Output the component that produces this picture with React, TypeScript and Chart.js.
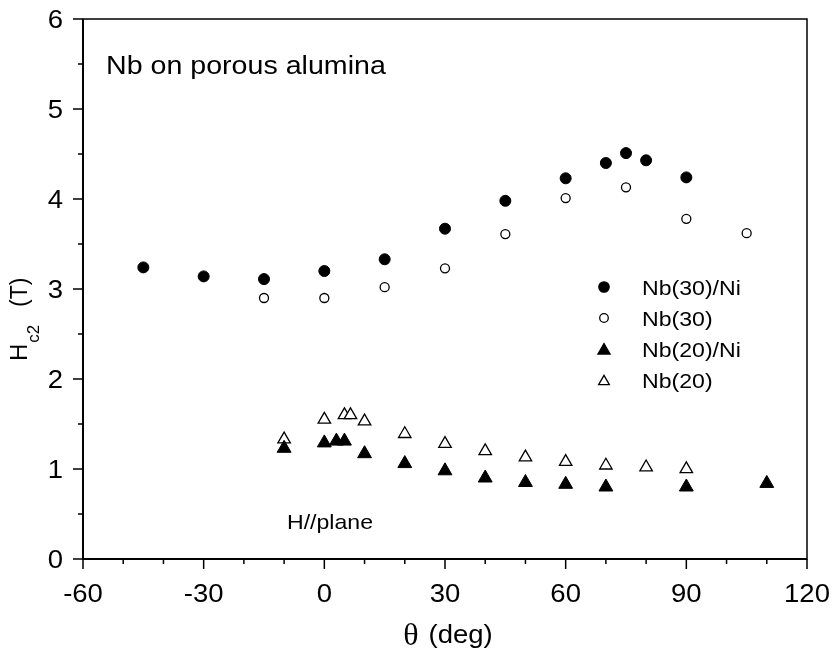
import React, { useEffect, useRef } from 'react';
import { Chart, registerables } from 'chart.js';

Chart.register(...registerables);

// Upper critical field H_c2 (T) versus field angle θ (deg)
const nb30NiTheta = [-45, -30, -15, 0, 15, 30, 45, 60, 70, 75, 80, 90];
const nb30NiHc2 = [3.24, 3.14, 3.11, 3.2, 3.33, 3.67, 3.98, 4.23, 4.4, 4.51, 4.43, 4.24];

const nb30Theta = [-15, 0, 15, 30, 45, 60, 75, 90, 105];
const nb30Hc2 = [2.9, 2.9, 3.02, 3.23, 3.61, 4.01, 4.13, 3.78, 3.62];

const nb20NiTheta = [-10, 0, 3, 5, 10, 20, 30, 40, 50, 60, 70, 90, 110];
const nb20NiHc2 = [1.23, 1.29, 1.31, 1.31, 1.17, 1.06, 0.98, 0.9, 0.85, 0.83, 0.8, 0.8, 0.84];

const nb20Theta = [-10, 0, 5, 6.5, 10, 20, 30, 40, 50, 60, 70, 80, 90];
const nb20Hc2 = [1.33, 1.55, 1.6, 1.6, 1.53, 1.39, 1.28, 1.2, 1.13, 1.08, 1.04, 1.02, 1.0];

const seriesNames = ['Nb(30)/Ni', 'Nb(30)', 'Nb(20)/Ni', 'Nb(20)'];

const xMajorTicks = [-60, -30, 0, 30, 60, 90, 120];
const xMinorTicks = [-50, -40, -20, -10, 10, 20, 40, 50, 70, 80, 100, 110];
const yMajorTicks = [0, 1, 2, 3, 4, 5, 6];
const yMinorTicks = [0.5, 1.5, 2.5, 3.5, 4.5, 5.5];

const SANS = '"Liberation Sans", Arial, sans-serif';
const SERIF = '"Liberation Serif", "Times New Roman", serif';
const STRETCH = 1.1;

function toPoints(xs: number[], ys: number[]) {
  return xs.map((x, i) => ({ x, y: ys[i] }));
}

// Text drawn slightly widened, like the original typesetting
function drawText(
  ctx: CanvasRenderingContext2D,
  text: string,
  x: number,
  y: number,
  font: string,
  align: 'left' | 'center' | 'right' = 'left',
  sx = STRETCH
) {
  ctx.save();
  ctx.font = font;
  ctx.textAlign = 'left';
  ctx.textBaseline = 'alphabetic';
  const w = ctx.measureText(text).width * sx;
  let left = x;
  if (align === 'center') left = x - w / 2;
  if (align === 'right') left = x - w;
  ctx.translate(left, y);
  ctx.scale(sx, 1);
  ctx.fillStyle = '#000';
  ctx.fillText(text, 0, 0);
  ctx.restore();
  return w;
}

function drawMarker(
  ctx: CanvasRenderingContext2D,
  kind: 'circle' | 'triangle',
  filled: boolean,
  x: number,
  y: number,
  r: number
) {
  ctx.save();
  ctx.beginPath();
  if (kind === 'circle') {
    ctx.arc(x, y, r, 0, Math.PI * 2);
  } else {
    ctx.moveTo(x, y - r);
    ctx.lineTo(x + r * Math.sin((2 * Math.PI) / 3), y - r * Math.cos((2 * Math.PI) / 3));
    ctx.lineTo(x + r * Math.sin((4 * Math.PI) / 3), y - r * Math.cos((4 * Math.PI) / 3));
    ctx.closePath();
  }
  ctx.fillStyle = filled ? '#000' : '#fff';
  ctx.fill();
  ctx.lineWidth = 1.3;
  ctx.strokeStyle = '#000';
  ctx.stroke();
  ctx.restore();
}

const framePlugin = {
  id: 'frameAndLabels',
  afterDatasetsDraw(chart: any) {
    const ctx: CanvasRenderingContext2D = chart.ctx;
    const { left, right, top, bottom } = chart.chartArea;
    const xs = chart.scales.x;
    const ys = chart.scales.y;

    ctx.save();
    ctx.strokeStyle = '#000';

    // box
    ctx.lineWidth = 1.5;
    ctx.strokeRect(left, top, right - left, bottom - top);
    ctx.lineWidth = 2;
    ctx.beginPath();
    ctx.moveTo(left, top);
    ctx.lineTo(left, bottom);
    ctx.lineTo(right, bottom);
    ctx.stroke();

    // ticks
    ctx.lineWidth = 1.5;
    ctx.beginPath();
    xMajorTicks.forEach((v) => {
      const px = xs.getPixelForValue(v);
      ctx.moveTo(px, bottom);
      ctx.lineTo(px, bottom + 10);
    });
    xMinorTicks.forEach((v) => {
      const px = xs.getPixelForValue(v);
      ctx.moveTo(px, bottom);
      ctx.lineTo(px, bottom + 5);
    });
    yMajorTicks.forEach((v) => {
      const py = ys.getPixelForValue(v);
      ctx.moveTo(left, py);
      ctx.lineTo(left - 10, py);
    });
    yMinorTicks.forEach((v) => {
      const py = ys.getPixelForValue(v);
      ctx.moveTo(left, py);
      ctx.lineTo(left - 5, py);
    });
    ctx.stroke();
    ctx.restore();

    // tick labels
    const tickFont = `25px ${SANS}`;
    xMajorTicks.forEach((v) => {
      drawText(ctx, String(v), xs.getPixelForValue(v), bottom + 43, tickFont, 'center');
    });
    yMajorTicks.forEach((v) => {
      drawText(ctx, String(v), left - 20, ys.getPixelForValue(v) + 9, tickFont, 'right');
    });

    // x-axis title
    const cx = (left + right) / 2;
    ctx.save();
    ctx.font = `32px ${SERIF}`;
    const thetaW = ctx.measureText('θ').width;
    ctx.restore();
    ctx.save();
    ctx.font = `25px ${SANS}`;
    const degW = ctx.measureText('(deg)').width * STRETCH;
    ctx.restore();
    const gap = 10;
    const startX = cx - (thetaW + gap + degW) / 2 + 3;
    drawText(ctx, 'θ', startX, 645, `32px ${SERIF}`, 'left', 1);
    drawText(ctx, '(deg)', startX + thetaW + gap, 643, `25px ${SANS}`);

    // y-axis title, rotated
    ctx.save();
    ctx.translate(27, 361);
    ctx.rotate(-Math.PI / 2);
    ctx.fillStyle = '#000';
    ctx.textBaseline = 'alphabetic';
    ctx.textAlign = 'left';
    ctx.font = `24px ${SANS}`;
    ctx.fillText('H', 0, 0);
    const hW = ctx.measureText('H').width;
    ctx.font = `17px ${SANS}`;
    ctx.fillText('c2', hW + 1, 12);
    ctx.font = `23px ${SANS}`;
    ctx.fillText('(T)', 54, 0);
    ctx.restore();

    // annotations
    drawText(ctx, 'Nb on porous alumina', 106, 74, `26px ${SANS}`);
    drawText(ctx, 'H//plane', 287, 529, `21px ${SANS}`);

    // legend
    const legendRows = [287, 318, 349, 380];
    const kinds: Array<['circle' | 'triangle', boolean, number]> = [
      ['circle', true, 5.2],
      ['circle', false, 4.3],
      ['triangle', true, 7],
      ['triangle', false, 6.2],
    ];
    seriesNames.forEach((name, i) => {
      const y = legendRows[i];
      const [k, f, r] = kinds[i];
      drawMarker(ctx, k, f, 604, k === 'triangle' ? y + 1.5 : y, r);
      drawText(ctx, name, 642, y + 8, `21px ${SANS}`);
    });
  },
};

export default function App() {
  const canvasRef = useRef<HTMLCanvasElement | null>(null);

  useEffect(() => {
    if (!canvasRef.current) return;
    const chart = new Chart(canvasRef.current, {
      type: 'scatter',
      data: {
        datasets: [
          {
            label: seriesNames[0],
            data: toPoints(nb30NiTheta, nb30NiHc2),
            pointStyle: 'circle',
            pointRadius: 5.5,
            pointBackgroundColor: '#000',
            pointBorderColor: '#000',
            pointBorderWidth: 1,
            showLine: false,
          },
          {
            label: seriesNames[1],
            data: toPoints(nb30Theta, nb30Hc2),
            pointStyle: 'circle',
            pointRadius: 4.5,
            pointBackgroundColor: '#fff',
            pointBorderColor: '#000',
            pointBorderWidth: 1.3,
            showLine: false,
          },
          {
            label: seriesNames[2],
            data: toPoints(nb20NiTheta, nb20NiHc2),
            pointStyle: 'triangle',
            pointRadius: 8,
            pointBackgroundColor: '#000',
            pointBorderColor: '#000',
            pointBorderWidth: 1,
            showLine: false,
          },
          {
            label: seriesNames[3],
            data: toPoints(nb20Theta, nb20Hc2),
            pointStyle: 'triangle',
            pointRadius: 7.2,
            pointBackgroundColor: '#fff',
            pointBorderColor: '#000',
            pointBorderWidth: 1.3,
            showLine: false,
          },
        ],
      },
      options: {
        responsive: false,
        animation: false,
        events: [],
        layout: { padding: { left: 83, right: 25, top: 19, bottom: 96 } },
        plugins: {
          legend: { display: false },
          tooltip: { enabled: false },
        },
        scales: {
          x: { type: 'linear', min: -60, max: 120, display: false },
          y: { type: 'linear', min: 0, max: 6, display: false },
        },
      },
      plugins: [framePlugin],
    });
    return () => chart.destroy();
  }, []);

  return (
    <div style={{ position: 'absolute', left: 0, top: 0, width: 832, height: 655, background: '#fff' }}>
      <canvas ref={canvasRef} width={832} height={655} style={{ width: 832, height: 655, display: 'block' }} />
    </div>
  );
}
